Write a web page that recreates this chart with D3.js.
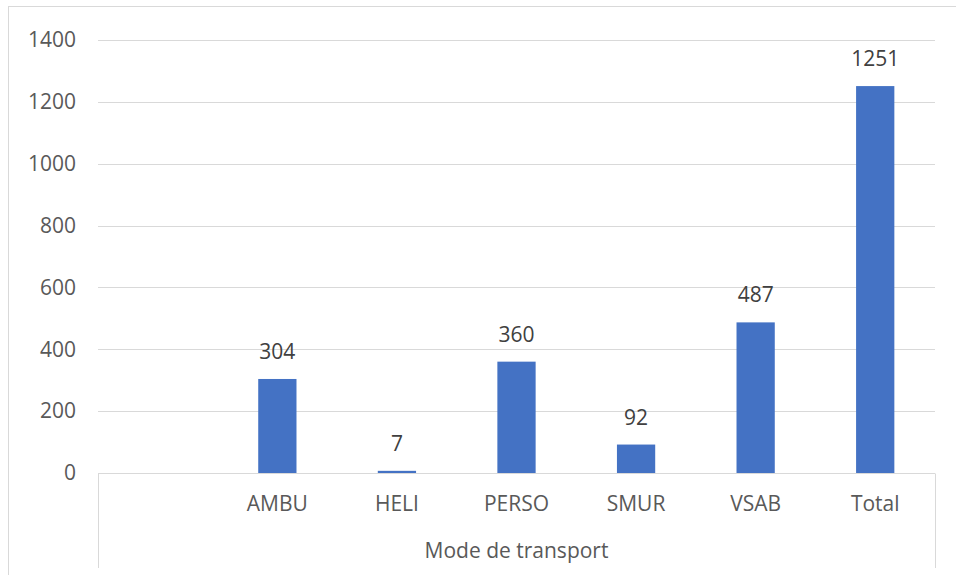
<!DOCTYPE html>
<html>
<head>
<meta charset="utf-8">
<script src="https://cdn.jsdelivr.net/npm/d3@7"></script>
<style>
  body { margin: 0; background: #fff; }
  text { font-family: "Open Sans", sans-serif; }
</style>
</head>
<body>
<div id="chart"></div>
<script>
// data (first category is empty in the source)
const categories = ["", "AMBU", "HELI", "PERSO", "SMUR", "VSAB", "Total"];
const values = [null, 304, 7, 360, 92, 487, 1251];
const yTicks = [0, 200, 400, 600, 800, 1000, 1200, 1400];
const groupLabel = "Mode de transport";

const width = 956;
const height = 575;
const margin = { top: 40, right: 21, bottom: 102, left: 98 };
const fontSize = 21;

const svg = d3.select('#chart')
    .append('svg')
    .attr('width', width)
    .attr('height', height);

// outer chart frame
svg.append('rect')
    .attr('x', 8.5).attr('y', 6.5)
    .attr('width', 980).attr('height', 600)
    .attr('fill', 'none')
    .attr('stroke', '#d9d9d9');

const x = d3.scaleBand()
    .domain(categories)
    .range([margin.left, width - margin.right])
    .paddingInner(0.68)
    .paddingOuter(0.34);

const y = d3.scaleLinear()
    .domain([0, 1400])
    .range([height - margin.bottom, margin.top]);

// gridlines
svg.append('g')
    .selectAll('line')
    .data(yTicks.slice(1))
    .join('line')
    .attr('x1', margin.left)
    .attr('x2', width - margin.right)
    .attr('y1', d => Math.round(y(d)) + 0.5)
    .attr('y2', d => Math.round(y(d)) + 0.5)
    .attr('stroke', '#d9d9d9');

// y labels
svg.append('g')
    .selectAll('text')
    .data(yTicks)
    .join('text')
    .attr('x', 76)
    .attr('y', d => y(d))
    .attr('dy', '0.35em')
    .attr('text-anchor', 'end')
    .attr('font-size', fontSize)
    .attr('fill', '#595959')
    .text(d => d);

const bars = categories.map((c, i) => ({ cat: c, value: values[i] })).filter(d => d.value != null);

svg.append('g')
    .attr('fill', '#4472c4')
    .selectAll('rect')
    .data(bars)
    .join('rect')
    .attr('x', d => x(d.cat))
    .attr('y', d => y(d.value))
    .attr('width', x.bandwidth())
    .attr('height', d => y(0) - y(d.value));

// data labels
svg.append('g')
    .selectAll('text')
    .data(bars)
    .join('text')
    .attr('x', d => x(d.cat) + x.bandwidth() / 2)
    .attr('y', d => y(d.value) - 20)
    .attr('text-anchor', 'middle')
    .attr('font-size', fontSize)
    .attr('fill', '#404040')
    .text(d => d.value);

// category axis (two levels)
const axisG = svg.append('g').attr('stroke', '#d9d9d9');
const y0 = Math.round(y(0)) + 0.5;
axisG.append('line')
    .attr('x1', margin.left).attr('x2', width - margin.right)
    .attr('y1', y0).attr('y2', y0);
[margin.left, width - margin.right].forEach(px => {
    axisG.append('line')
        .attr('x1', Math.round(px) + 0.5).attr('x2', Math.round(px) + 0.5)
        .attr('y1', y0).attr('y2', 568);
});

svg.append('g')
    .selectAll('text')
    .data(categories)
    .join('text')
    .attr('x', d => x(d) + x.bandwidth() / 2)
    .attr('y', 511)
    .attr('text-anchor', 'middle')
    .attr('font-size', fontSize)
    .attr('fill', '#595959')
    .text(d => d);

svg.append('text')
    .attr('x', (margin.left + width - margin.right) / 2)
    .attr('y', 558)
    .attr('text-anchor', 'middle')
    .attr('font-size', fontSize)
    .attr('fill', '#595959')
    .text(groupLabel);

svg.node();
</script>
</body>
</html>
